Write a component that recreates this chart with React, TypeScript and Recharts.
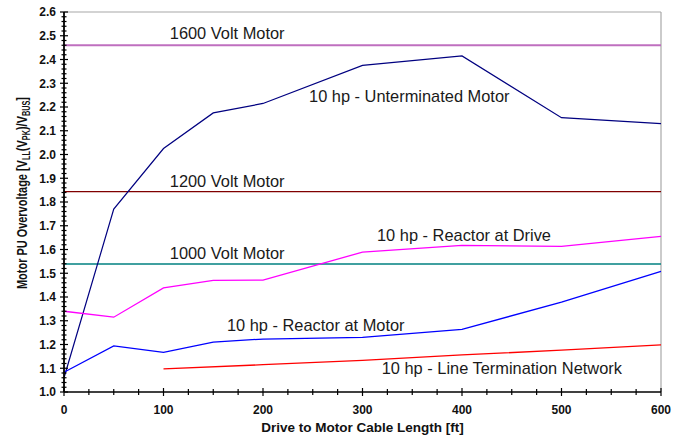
import {
  LineChart,
  Line,
  XAxis,
  YAxis,
  ReferenceLine,
  ReferenceDot,
  Label,
} from "recharts";

// cable length from drive to motor [ft]
const cableFt = [0, 50, 100, 150, 200, 300, 400, 500, 600];

// per-unit peak line-line voltage at the motor terminals
const unterminated = [1.06, 1.77, 2.025, 2.175, 2.215, 2.375, 2.415, 2.155, 2.13];
const reactorAtDrive = [1.34, 1.315, 1.438, 1.47, 1.471, 1.589, 1.617, 1.613, 1.655];
const reactorAtMotor = [1.083, 1.194, 1.167, 1.21, 1.223, 1.23, 1.264, 1.378, 1.508];
const lineTermination = [null, null, 1.097, null, 1.115, 1.133, 1.156, 1.176, 1.198];

// insulation ratings of the motors
const limitNames = ["1600 Volt Motor", "1200 Volt Motor", "1000 Volt Motor"];
const limitPu = [2.46, 1.844, 1.539];

const yMajorTicks = [1.0, 1.1, 1.2, 1.3, 1.4, 1.5, 1.6, 1.7, 1.8, 1.9, 2.0, 2.1, 2.2, 2.3, 2.4, 2.5, 2.6];
const xMajorTicks = [0, 100, 200, 300, 400, 500, 600];

const table = cableFt.map((ft, i) => ({
  ft,
  unterminated: unterminated[i],
  reactorAtDrive: reactorAtDrive[i],
  reactorAtMotor: reactorAtMotor[i],
  lineTermination: lineTermination[i],
}));

// minor ticks: 0.02 pu on y, 25 ft on x
const yTicks: number[] = [];
for (let k = 0; k <= 80; k++) yTicks.push(Math.round((1 + k * 0.02) * 100) / 100);
const xTicks: number[] = [];
for (let k = 0; k <= 24; k++) xTicks.push(k * 25);

const limitColors = ["#bf6fbf", "#800000", "#008080"];
const limitWidths = [2, 1.3, 1.4];

// text placed in chart units (ft, pu)
const notes = [
  { ft: 164, pu: 2.508, text: "1600 Volt Motor" },
  { ft: 164, pu: 1.886, text: "1200 Volt Motor" },
  { ft: 164, pu: 1.585, text: "1000 Volt Motor" },
  { ft: 347, pu: 2.243, text: "10 hp - Unterminated Motor" },
  { ft: 402, pu: 1.659, text: "10 hp - Reactor at Drive" },
  { ft: 253, pu: 1.279, text: "10 hp - Reactor at Motor" },
  { ft: 440, pu: 1.097, text: "10 hp - Line Termination Network" },
];

const FONT = "'Liberation Sans', Arial, sans-serif";

const isMajor = (list: number[], v: number) =>
  list.some((m) => Math.abs(m - v) < 1e-6);

const YTick = (props: any) => {
  const { x, y, payload } = props;
  const major = isMajor(yMajorTicks, payload.value);
  const h = major ? 4 : 2.5;
  return (
    <g>
      <line x1={x - h} x2={x + h} y1={y} y2={y} stroke="#000" strokeWidth={1.2} />
      {major && (
        <text
          x={x - 8}
          y={y}
          dy={4.3}
          textAnchor="end"
          fontFamily={FONT}
          fontWeight="bold"
          fontSize={12}
          fill="#111"
        >
          {payload.value.toFixed(1)}
        </text>
      )}
    </g>
  );
};

const XTick = (props: any) => {
  const { x, y, payload } = props;
  const major = isMajor(xMajorTicks, payload.value);
  const h = major ? 4 : 3;
  return (
    <g>
      <line x1={x} x2={x} y1={y - h} y2={y + h} stroke="#000" strokeWidth={1.2} />
      {major && (
        <text
          x={x}
          y={y + 22}
          textAnchor="middle"
          fontFamily={FONT}
          fontWeight="bold"
          fontSize={12}
          fill="#111"
        >
          {payload.value}
        </text>
      )}
    </g>
  );
};

// rotated title, squeezed a little along its length
const YTitle = (props: any) => {
  const { viewBox } = props;
  const cx = viewBox.x + 21;
  const cy = viewBox.y + 181;
  return (
    <text
      transform={`translate(${cx},${cy}) rotate(-90) scale(0.73,1)`}
      textAnchor="middle"
      dy={5.5}
      fontFamily={FONT}
      fontWeight="bold"
      fontSize={15}
      fill="#111"
    >
      <tspan>Motor PU Overvoltage [V</tspan>
      <tspan fontSize={10} dy={3}>LL</tspan>
      <tspan dy={-3}>(V</tspan>
      <tspan fontSize={10} dy={3}>PK</tspan>
      <tspan dy={-3}>)/V</tspan>
      <tspan fontSize={10} dy={3}>BUS</tspan>
      <tspan dy={-3}>]</tspan>
    </text>
  );
};

const NoteText = (text: string) => (props: any) => (
  <text
    x={props.cx}
    y={props.cy}
    dy={5.5}
    textAnchor="middle"
    fontFamily={FONT}
    fontSize={16.4}
    fill="#1a1a1a"
  >
    {text}
  </text>
);

export default function App() {
  return (
    <div style={{ position: "absolute", left: 0, top: 0, background: "#fff" }}>
      <LineChart
        width={688}
        height={441}
        data={table}
        margin={{ top: 12, right: 27, left: 0, bottom: 0 }}
      >
        <XAxis
          dataKey="ft"
          type="number"
          domain={[0, 600]}
          ticks={xTicks}
          interval={0}
          tick={<XTick />}
          tickLine={false}
          tickSize={0}
          tickMargin={0}
          height={49}
          axisLine={{ stroke: "#000", strokeWidth: 1.6 }}
        >
          <Label
            value="Drive to Motor Cable Length [ft]"
            position="insideBottom"
            offset={9}
            style={{ fontFamily: FONT, fontWeight: "bold", fontSize: 13.5, fill: "#111" }}
          />
        </XAxis>
        <YAxis
          type="number"
          domain={[1, 2.6]}
          ticks={yTicks}
          interval={0}
          tick={<YTick />}
          tickLine={false}
          tickSize={0}
          tickMargin={0}
          width={64}
          axisLine={{ stroke: "#000", strokeWidth: 1.8 }}
        >
          <Label content={<YTitle />} />
        </YAxis>

        {/* plot frame, top and right */}
        <ReferenceLine y={2.6} stroke="#a8a8a8" strokeWidth={1.2} />
        <ReferenceLine x={600} stroke="#a8a8a8" strokeWidth={1.2} />

        {limitPu.map((pu, i) => (
          <ReferenceLine
            key={limitNames[i]}
            y={pu}
            stroke={limitColors[i]}
            strokeWidth={limitWidths[i]}
          />
        ))}

        <Line
          dataKey="unterminated"
          stroke="#000080"
          strokeWidth={1.2}
          dot={false}
          isAnimationActive={false}
        />
        <Line
          dataKey="reactorAtDrive"
          stroke="#ff00ff"
          strokeWidth={1.3}
          dot={false}
          isAnimationActive={false}
        />
        <Line
          dataKey="reactorAtMotor"
          stroke="#0000ff"
          strokeWidth={1.3}
          dot={false}
          isAnimationActive={false}
        />
        <Line
          dataKey="lineTermination"
          stroke="#ff0000"
          strokeWidth={1.3}
          dot={false}
          connectNulls
          isAnimationActive={false}
        />

        {notes.map((n) => (
          <ReferenceDot
            key={n.text}
            x={n.ft}
            y={n.pu}
            r={0}
            shape={NoteText(n.text)}
          />
        ))}
      </LineChart>
    </div>
  );
}
